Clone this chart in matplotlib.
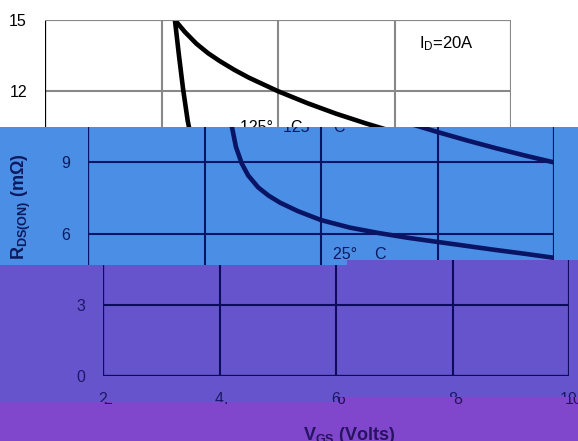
import matplotlib.pyplot as plt
from matplotlib.path import Path
from matplotlib.patches import PathPatch
from matplotlib.text import Text
from matplotlib.transforms import Affine2D, Bbox, TransformedBbox

plt.rcParams['font.family'] = ['Liberation Sans', 'DejaVu Sans']
plt.rcParams['mathtext.fontset'] = 'custom'
plt.rcParams['mathtext.rm'] = 'Liberation Sans'
plt.rcParams['mathtext.it'] = 'Liberation Sans:italic'
plt.rcParams['mathtext.bf'] = 'Liberation Sans:bold'

# R_DS(on) vs V_GS, I_D = 20 A
vgs_125 = [4.23, 4.4, 4.6, 4.8, 5.0, 5.25, 5.5, 6.0, 6.5, 7.0, 7.5, 8.0, 8.5, 9.0, 9.5, 10.0]
rds_125 = [15.0, 14.5, 14.0, 13.6, 13.27, 12.9, 12.57, 12.0, 11.5, 11.05, 10.65, 10.28,
           9.93, 9.6, 9.29, 9.0]
vgs_25 = [4.23, 4.3, 4.37, 4.45, 4.54, 4.64, 4.75, 4.92, 5.1, 5.3, 5.6, 6.0, 6.5, 7.0,
          7.5, 8.0, 8.5, 9.0, 9.5, 10.0]
rds_25 = [15.0, 13.5, 12.1, 10.75, 9.65, 8.95, 8.45, 7.95, 7.6, 7.3, 6.95, 6.57, 6.25,
          6.02, 5.82, 5.65, 5.48, 5.31, 5.15, 4.98]
x_ticks = [2, 4, 6, 8, 10]
y_ticks = [0, 3, 6, 9, 12, 15]

W, H = 578, 441
fig = plt.figure(figsize=(W / 100, H / 100), dpi=100)
# pixel coords measured from the top-left corner
px = Affine2D().scale(1 / W, -1 / H).translate(0, 1) + fig.transFigure

# strip edges: y left of the step, y right of the step, x of the step
edges = [(0, 0, W), (127, 127, W), (265, 260, 347), (402, 397, 340), (H, H, W)]


def edge_y(k, x):
    y_left, y_right, x_step = edges[k]
    return y_left if x < x_step else y_right


def strip_path(k):
    (a0, b0, s0), (a1, b1, s1) = edges[k], edges[k + 1]
    verts = [(0, a0), (s0, a0), (s0, b0), (W, b0), (W, b1), (s1, b1), (s1, a1), (0, a1), (0, a0)]
    return Path(verts, closed=True)


# x shift, background, curve / spine / grid / text colours
bands = [
    (0, 'white', 'black', 'black', '#888888', 'black'),
    (43, '#4a8ee6', '#0a1464', '#0a1464', '#0a1464', '#0c1a5e'),
    (58, '#6654cc', '#0c0c5c', '#0c0c5c', '#0c0c5c', '#1c1866'),
    (63, '#8046cc', '#1a0c5c', '#1a0c5c', '#1a0c5c', '#261460'),
]

for k, (dx, bg, curve_c, spine_c, grid_c, text_c) in enumerate(bands):
    clip = strip_path(k)
    fig.add_artist(PathPatch(clip, transform=px, facecolor=bg, edgecolor='none', zorder=-5))

    left, right, top, bottom = 45 + dx, 511 + dx, 20, 376
    ax = fig.add_axes([left / W, (H - bottom) / H, (right - left) / W, (bottom - top) / H])
    ax.patch.set_visible(False)

    ax.plot(vgs_125, rds_125, color=curve_c, lw=3.3, solid_capstyle='butt')
    ax.plot(vgs_25, rds_25, color=curve_c, lw=3.3, solid_capstyle='butt')
    ax.text(5.35, 10.3, '125°    C', fontsize=11.5, color=text_c)
    ax.text(6.21, 4.93, '25°    C', fontsize=11.5, color=text_c)
    ax.text(8.42, 13.82, r'I$_\mathregular{D}$=20A', fontsize=12, color=text_c)

    ax.set_xlim(2, 10)
    ax.set_ylim(0, 15)
    ax.set_xticks(x_ticks)
    ax.set_yticks(y_ticks)
    ax.tick_params(length=0, labelsize=11.5, labelcolor=text_c)
    ax.tick_params(axis='y', pad=13)
    ax.tick_params(axis='x', pad=11.5)
    ax.grid(True, color=grid_c, lw=1.5)
    for side in ['left', 'bottom']:
        ax.spines[side].set_color(spine_c)
        ax.spines[side].set_linewidth(1.6)
    for side in ['top', 'right']:
        ax.spines[side].set_color(grid_c)
        ax.spines[side].set_linewidth(1.5)

    ax.set_ylabel(r'R$_\mathbf{DS(ON)}$ (mΩ)', fontsize=13, fontweight='bold', color=text_c)
    ax.yaxis.set_label_coords(-0.118, 0.475)
    ax.set_xlabel(r'V$_\mathbf{GS}$ (Volts)', fontsize=13, fontweight='bold', color=text_c)
    ax.xaxis.set_label_coords(0.519, -0.1376)

    fig.canvas.draw()
    renderer = fig.canvas.get_renderer()
    for obj in ax.findobj():
        if obj is ax:
            continue
        obj.set_clip_on(True)
        if isinstance(obj, Text):
            # Agg clips text only to rectangles: use the strip's rows at the text's x
            ext = obj.get_window_extent(renderer)
            xc = (ext.x0 + ext.x1) / 2
            y_top, y_bot = edge_y(k, xc), edge_y(k + 1, xc)
            box = Bbox([[0, (H - y_bot) / H], [1, (H - y_top) / H]])
            obj.set_clip_path(None)
            obj.set_clip_box(TransformedBbox(box, fig.transFigure))
        else:
            obj.set_clip_path(clip, px)

fig.savefig('out.png', dpi=100)
